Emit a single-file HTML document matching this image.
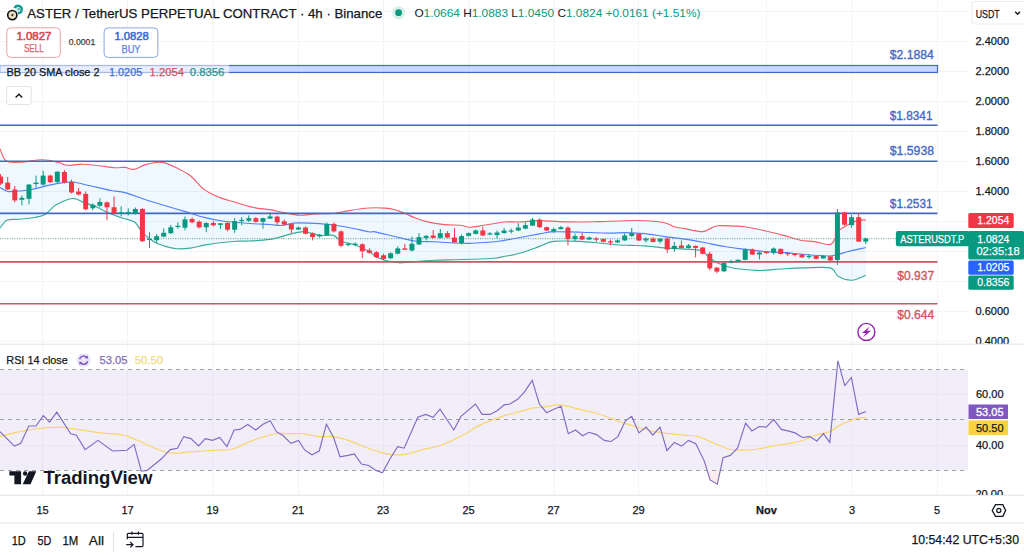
<!DOCTYPE html>
<html><head><meta charset="utf-8">
<style>
html,body{margin:0;padding:0;background:#fff;width:1024px;height:555px;overflow:hidden;}
svg{position:absolute;left:0;top:0;font-family:"Liberation Sans", sans-serif;}
</style></head><body>
<svg width="1024" height="555" viewBox="0 0 1024 555">
<line x1="42.5" y1="0" x2="42.5" y2="495" stroke="#f4f4f7" stroke-width="1"/>
<line x1="127.5" y1="0" x2="127.5" y2="495" stroke="#f4f4f7" stroke-width="1"/>
<line x1="213" y1="0" x2="213" y2="495" stroke="#f4f4f7" stroke-width="1"/>
<line x1="298.5" y1="0" x2="298.5" y2="495" stroke="#f4f4f7" stroke-width="1"/>
<line x1="383.5" y1="0" x2="383.5" y2="495" stroke="#f4f4f7" stroke-width="1"/>
<line x1="469" y1="0" x2="469" y2="495" stroke="#f4f4f7" stroke-width="1"/>
<line x1="554" y1="0" x2="554" y2="495" stroke="#f4f4f7" stroke-width="1"/>
<line x1="638.5" y1="0" x2="638.5" y2="495" stroke="#f4f4f7" stroke-width="1"/>
<line x1="766.5" y1="0" x2="766.5" y2="495" stroke="#f4f4f7" stroke-width="1"/>
<line x1="852" y1="0" x2="852" y2="495" stroke="#f4f4f7" stroke-width="1"/>
<line x1="937.5" y1="0" x2="937.5" y2="495" stroke="#f4f4f7" stroke-width="1"/>
<line x1="0" y1="11.5" x2="968" y2="11.5" stroke="#f4f4f7" stroke-width="1"/>
<line x1="0" y1="41.5" x2="968" y2="41.5" stroke="#f4f4f7" stroke-width="1"/>
<line x1="0" y1="71.5" x2="968" y2="71.5" stroke="#f4f4f7" stroke-width="1"/>
<line x1="0" y1="101.5" x2="968" y2="101.5" stroke="#f4f4f7" stroke-width="1"/>
<line x1="0" y1="131.5" x2="968" y2="131.5" stroke="#f4f4f7" stroke-width="1"/>
<line x1="0" y1="161.5" x2="968" y2="161.5" stroke="#f4f4f7" stroke-width="1"/>
<line x1="0" y1="191.5" x2="968" y2="191.5" stroke="#f4f4f7" stroke-width="1"/>
<line x1="0" y1="221.5" x2="968" y2="221.5" stroke="#f4f4f7" stroke-width="1"/>
<line x1="0" y1="251.5" x2="968" y2="251.5" stroke="#f4f4f7" stroke-width="1"/>
<line x1="0" y1="281.5" x2="968" y2="281.5" stroke="#f4f4f7" stroke-width="1"/>
<line x1="0" y1="311.5" x2="968" y2="311.5" stroke="#f4f4f7" stroke-width="1"/>
<line x1="0" y1="341.5" x2="968" y2="341.5" stroke="#f4f4f7" stroke-width="1"/>
<line x1="0" y1="394.5" x2="968" y2="394.5" stroke="#f4f4f7" stroke-width="1"/>
<line x1="0" y1="445.5" x2="968" y2="445.5" stroke="#f4f4f7" stroke-width="1"/>
<path d="M0.0,148.8 C1.0,150.8 2.7,158.5 6.0,160.7 C9.3,162.9 13.9,162.3 20.0,162.2 C26.1,162.0 36.0,159.7 42.6,159.8 C49.2,159.9 55.3,161.9 59.4,162.8 C63.5,163.7 63.4,165.1 67.3,165.3 C71.2,165.5 77.7,164.1 83.0,164.2 C88.3,164.3 93.7,165.1 99.0,165.7 C104.3,166.3 110.7,167.4 115.0,167.7 C119.3,168.0 121.8,167.1 125.0,167.4 C128.2,167.7 130.6,169.8 133.9,169.4 C137.2,169.0 140.8,166.1 144.8,164.9 C148.8,163.7 154.4,162.6 157.7,162.3 C161.0,162.0 161.5,162.0 164.6,162.9 C167.7,163.8 172.2,165.7 176.5,167.8 C180.8,170.0 185.8,172.2 190.4,175.8 C195.0,179.4 199.4,186.0 204.3,189.6 C209.2,193.2 214.7,195.4 220.0,197.6 C225.3,199.8 230.4,200.8 236.0,202.5 C241.6,204.2 248.2,206.3 253.8,207.5 C259.4,208.7 264.8,208.8 269.8,209.6 C274.8,210.4 278.8,211.7 283.7,212.6 C288.6,213.5 294.2,215.0 299.5,215.2 C304.8,215.4 309.4,214.3 315.4,214.0 C321.3,213.7 329.6,213.8 335.2,213.2 C340.8,212.6 343.4,211.5 349.0,210.6 C354.6,209.7 362.9,208.4 368.9,208.0 C374.9,207.6 380.6,207.8 384.9,208.1 C389.2,208.4 391.5,208.8 394.8,209.7 C398.1,210.6 401.4,212.0 404.7,213.3 C408.0,214.6 411.0,216.3 414.6,217.7 C418.2,219.1 421.5,220.4 426.5,221.6 C431.5,222.8 438.8,224.0 444.4,224.6 C450.0,225.2 455.9,224.8 460.2,225.2 C464.5,225.6 466.1,227.2 470.1,227.2 C474.1,227.2 478.2,226.1 484.0,225.2 C489.8,224.3 499.0,222.5 505.0,222.0 C511.0,221.5 514.0,222.2 519.8,222.0 C525.6,221.8 533.0,220.7 539.6,220.6 C546.2,220.5 552.9,221.4 559.5,221.6 C566.1,221.8 572.7,222.0 579.3,222.0 C585.9,222.0 591.5,221.8 599.1,221.6 C606.7,221.4 617.4,220.8 625.0,220.7 C632.6,220.5 638.2,220.4 644.8,220.7 C651.4,221.0 659.6,221.7 664.6,222.7 C669.6,223.7 671.2,225.7 674.5,226.7 C677.8,227.7 679.9,227.8 684.5,228.6 C689.1,229.4 698.0,231.6 702.3,231.6 C706.6,231.6 707.6,229.6 710.2,228.6 C712.8,227.6 714.1,226.1 718.1,225.7 C722.1,225.3 729.5,225.9 734.0,226.1 C738.5,226.3 739.9,225.9 745.0,226.7 C750.1,227.5 758.2,229.2 764.8,230.7 C771.4,232.2 778.6,234.0 784.6,235.6 C790.6,237.2 795.5,239.2 800.5,240.2 C805.5,241.2 809.4,240.9 814.4,241.6 C819.4,242.3 826.6,245.3 830.2,244.5 C833.8,243.7 834.6,239.1 836.2,236.6 C837.9,234.1 838.1,231.7 840.1,229.7 C842.1,227.7 845.0,226.2 848.0,224.7 C851.0,223.1 855.0,221.2 858.0,220.4 C861.0,219.6 864.6,219.9 865.9,219.8 L865.9,275.3 C863.6,276.1 856.6,280.0 852.0,280.2 C847.4,280.4 841.7,278.4 838.1,276.3 C834.5,274.2 835.8,269.3 830.2,267.9 C824.6,266.5 812.1,267.8 804.5,267.9 C796.9,268.0 791.2,268.3 784.6,268.7 C778.0,269.1 769.7,270.0 764.8,270.3 C759.9,270.6 760.1,270.6 755.0,270.3 C749.9,270.0 740.1,269.5 734.0,268.3 C727.9,267.1 722.4,265.3 718.1,263.3 C713.8,261.3 711.2,258.5 708.2,256.4 C705.2,254.2 704.2,251.6 700.3,250.4 C696.3,249.2 690.5,249.5 684.5,249.1 C678.5,248.7 671.2,248.4 664.6,247.9 C658.0,247.4 650.6,246.3 644.8,245.9 C639.0,245.5 634.3,245.6 630.0,245.4 C625.7,245.2 624.0,245.4 618.9,245.0 C613.8,244.6 605.7,243.6 599.1,243.0 C592.5,242.4 586.9,241.7 579.3,241.4 C571.7,241.1 560.1,240.6 553.5,241.4 C546.9,242.2 545.2,244.4 539.6,246.4 C534.0,248.4 525.6,251.7 519.8,253.3 C514.0,255.0 509.3,255.5 505.0,256.3 C500.7,257.1 499.0,257.8 493.9,258.3 C488.8,258.8 480.7,259.1 474.1,259.3 C467.5,259.5 460.9,259.5 454.3,259.7 C447.7,259.9 441.1,260.0 434.5,260.3 C427.9,260.6 420.6,261.2 414.6,261.6 C408.7,262.0 403.8,263.0 398.8,262.8 C393.9,262.6 388.9,261.4 384.9,260.3 C380.9,259.2 377.7,257.8 375.0,256.3 C372.3,254.8 372.6,253.3 368.9,251.3 C365.2,249.3 357.6,246.0 353.0,244.3 C348.4,242.6 344.3,242.8 341.0,241.3 C337.7,239.8 336.8,236.4 333.2,235.4 C329.6,234.4 324.0,236.0 319.4,235.4 C314.8,234.8 309.1,232.3 305.5,231.8 C301.9,231.3 300.9,231.8 297.6,232.4 C294.3,233.0 290.3,234.2 285.7,235.4 C281.1,236.6 275.8,238.5 269.8,239.4 C263.9,240.3 255.6,240.7 250.0,241.0 C244.4,241.3 241.0,240.9 236.0,241.2 C231.0,241.5 225.3,242.0 220.0,242.7 C214.7,243.3 209.2,244.2 204.3,245.1 C199.4,246.0 195.0,247.5 190.4,248.1 C185.8,248.7 180.8,249.0 176.5,248.7 C172.2,248.4 168.2,247.2 164.6,246.1 C161.0,245.0 158.3,244.3 154.7,242.2 C151.1,240.0 146.1,236.5 142.8,233.2 C139.5,229.9 138.2,224.8 134.9,222.3 C131.6,219.8 127.1,219.7 122.8,218.2 C118.5,216.7 113.6,215.3 109.0,213.3 C104.4,211.3 99.3,208.1 95.0,206.3 C90.7,204.5 86.3,203.6 83.2,202.4 C80.1,201.2 78.5,199.6 76.2,199.0 C73.9,198.4 72.8,197.9 69.3,199.0 C65.8,200.1 59.4,202.8 55.4,205.3 C51.4,207.9 48.8,212.3 45.5,214.3 C42.2,216.3 39.9,216.4 35.6,217.2 C31.3,218.0 24.6,218.7 19.8,219.2 C15.0,219.7 10.2,218.7 6.9,220.2 C3.6,221.7 1.2,226.7 0.0,228.0 Z" fill="rgba(33,150,243,0.07)"/>
<path d="M0.0,148.8 C1.0,150.8 2.7,158.5 6.0,160.7 C9.3,162.9 13.9,162.3 20.0,162.2 C26.1,162.0 36.0,159.7 42.6,159.8 C49.2,159.9 55.3,161.9 59.4,162.8 C63.5,163.7 63.4,165.1 67.3,165.3 C71.2,165.5 77.7,164.1 83.0,164.2 C88.3,164.3 93.7,165.1 99.0,165.7 C104.3,166.3 110.7,167.4 115.0,167.7 C119.3,168.0 121.8,167.1 125.0,167.4 C128.2,167.7 130.6,169.8 133.9,169.4 C137.2,169.0 140.8,166.1 144.8,164.9 C148.8,163.7 154.4,162.6 157.7,162.3 C161.0,162.0 161.5,162.0 164.6,162.9 C167.7,163.8 172.2,165.7 176.5,167.8 C180.8,170.0 185.8,172.2 190.4,175.8 C195.0,179.4 199.4,186.0 204.3,189.6 C209.2,193.2 214.7,195.4 220.0,197.6 C225.3,199.8 230.4,200.8 236.0,202.5 C241.6,204.2 248.2,206.3 253.8,207.5 C259.4,208.7 264.8,208.8 269.8,209.6 C274.8,210.4 278.8,211.7 283.7,212.6 C288.6,213.5 294.2,215.0 299.5,215.2 C304.8,215.4 309.4,214.3 315.4,214.0 C321.3,213.7 329.6,213.8 335.2,213.2 C340.8,212.6 343.4,211.5 349.0,210.6 C354.6,209.7 362.9,208.4 368.9,208.0 C374.9,207.6 380.6,207.8 384.9,208.1 C389.2,208.4 391.5,208.8 394.8,209.7 C398.1,210.6 401.4,212.0 404.7,213.3 C408.0,214.6 411.0,216.3 414.6,217.7 C418.2,219.1 421.5,220.4 426.5,221.6 C431.5,222.8 438.8,224.0 444.4,224.6 C450.0,225.2 455.9,224.8 460.2,225.2 C464.5,225.6 466.1,227.2 470.1,227.2 C474.1,227.2 478.2,226.1 484.0,225.2 C489.8,224.3 499.0,222.5 505.0,222.0 C511.0,221.5 514.0,222.2 519.8,222.0 C525.6,221.8 533.0,220.7 539.6,220.6 C546.2,220.5 552.9,221.4 559.5,221.6 C566.1,221.8 572.7,222.0 579.3,222.0 C585.9,222.0 591.5,221.8 599.1,221.6 C606.7,221.4 617.4,220.8 625.0,220.7 C632.6,220.5 638.2,220.4 644.8,220.7 C651.4,221.0 659.6,221.7 664.6,222.7 C669.6,223.7 671.2,225.7 674.5,226.7 C677.8,227.7 679.9,227.8 684.5,228.6 C689.1,229.4 698.0,231.6 702.3,231.6 C706.6,231.6 707.6,229.6 710.2,228.6 C712.8,227.6 714.1,226.1 718.1,225.7 C722.1,225.3 729.5,225.9 734.0,226.1 C738.5,226.3 739.9,225.9 745.0,226.7 C750.1,227.5 758.2,229.2 764.8,230.7 C771.4,232.2 778.6,234.0 784.6,235.6 C790.6,237.2 795.5,239.2 800.5,240.2 C805.5,241.2 809.4,240.9 814.4,241.6 C819.4,242.3 826.6,245.3 830.2,244.5 C833.8,243.7 834.6,239.1 836.2,236.6 C837.9,234.1 838.1,231.7 840.1,229.7 C842.1,227.7 845.0,226.2 848.0,224.7 C851.0,223.1 855.0,221.2 858.0,220.4 C861.0,219.6 864.6,219.9 865.9,219.8" fill="none" stroke="#f23645" stroke-width="1.15" stroke-opacity="0.8"/>
<path d="M0.0,187.5 C1.3,188.2 4.6,190.9 7.9,191.5 C11.2,192.1 15.8,191.3 19.8,191.0 C23.8,190.7 26.8,190.5 31.7,189.5 C36.6,188.5 44.2,186.2 49.5,185.1 C54.8,183.9 59.4,183.1 63.4,182.6 C67.4,182.1 69.0,181.5 73.3,182.0 C77.6,182.5 82.7,184.1 89.0,185.5 C95.3,186.9 105.0,189.3 111.0,190.5 C117.0,191.7 119.4,191.1 125.0,192.6 C130.6,194.1 138.2,197.3 144.8,199.5 C151.4,201.7 158.0,203.5 164.6,205.5 C171.2,207.5 177.9,209.4 184.5,211.4 C191.1,213.4 197.7,215.8 204.3,217.4 C210.9,219.1 216.4,220.3 224.0,221.3 C231.6,222.3 242.4,223.0 250.0,223.5 C257.6,224.0 264.5,224.2 269.8,224.5 C275.1,224.8 277.7,225.7 281.7,225.5 C285.7,225.3 289.0,223.5 293.6,223.1 C298.2,222.7 303.6,222.9 309.5,223.1 C315.4,223.3 322.7,223.8 329.3,224.5 C335.9,225.2 342.4,226.3 349.0,227.5 C355.6,228.7 364.6,231.1 368.9,231.8 C373.2,232.5 370.7,231.1 375.0,231.9 C379.3,232.7 388.2,235.0 394.8,236.5 C401.4,238.0 408.0,240.1 414.6,241.0 C421.2,241.9 427.9,241.5 434.5,241.8 C441.1,242.1 448.4,242.7 454.3,243.0 C460.2,243.3 464.8,243.5 470.1,243.4 C475.4,243.3 481.0,242.8 486.0,242.4 C491.0,242.0 494.4,241.8 500.0,241.0 C505.6,240.2 513.2,238.7 519.8,237.5 C526.4,236.3 534.3,234.8 539.6,233.9 C544.9,233.0 546.5,232.2 551.5,231.9 C556.5,231.6 563.1,231.8 569.4,231.9 C575.7,232.0 582.3,232.3 589.2,232.5 C596.1,232.7 605.0,233.1 611.0,233.1 C617.0,233.1 619.4,232.5 625.0,232.6 C630.6,232.7 638.2,232.9 644.8,233.6 C651.4,234.3 658.0,235.7 664.6,236.6 C671.2,237.5 677.9,238.1 684.5,239.1 C691.1,240.1 697.7,241.3 704.3,242.5 C710.9,243.7 717.5,245.4 724.1,246.5 C730.7,247.6 737.1,248.3 743.9,249.1 C750.7,249.9 758.0,250.9 764.8,251.5 C771.6,252.1 778.0,252.0 784.6,252.5 C791.2,253.0 797.2,253.9 804.5,254.5 C811.8,255.1 822.6,256.0 828.2,256.0 C833.8,256.0 834.8,255.2 838.1,254.5 C841.4,253.8 843.4,252.7 848.0,251.5 C852.6,250.3 862.9,248.2 865.9,247.5" fill="none" stroke="#2962ff" stroke-width="1.15" stroke-opacity="0.8"/>
<path d="M0.0,228.0 C1.2,226.7 3.6,221.7 6.9,220.2 C10.2,218.7 15.0,219.7 19.8,219.2 C24.6,218.7 31.3,218.0 35.6,217.2 C39.9,216.4 42.2,216.3 45.5,214.3 C48.8,212.3 51.4,207.9 55.4,205.3 C59.4,202.8 65.8,200.1 69.3,199.0 C72.8,197.9 73.9,198.4 76.2,199.0 C78.5,199.6 80.1,201.2 83.2,202.4 C86.3,203.6 90.7,204.5 95.0,206.3 C99.3,208.1 104.4,211.3 109.0,213.3 C113.6,215.3 118.5,216.7 122.8,218.2 C127.1,219.7 131.6,219.8 134.9,222.3 C138.2,224.8 139.5,229.9 142.8,233.2 C146.1,236.5 151.1,240.0 154.7,242.2 C158.3,244.3 161.0,245.0 164.6,246.1 C168.2,247.2 172.2,248.4 176.5,248.7 C180.8,249.0 185.8,248.7 190.4,248.1 C195.0,247.5 199.4,246.0 204.3,245.1 C209.2,244.2 214.7,243.3 220.0,242.7 C225.3,242.0 231.0,241.5 236.0,241.2 C241.0,240.9 244.4,241.3 250.0,241.0 C255.6,240.7 263.9,240.3 269.8,239.4 C275.8,238.5 281.1,236.6 285.7,235.4 C290.3,234.2 294.3,233.0 297.6,232.4 C300.9,231.8 301.9,231.3 305.5,231.8 C309.1,232.3 314.8,234.8 319.4,235.4 C324.0,236.0 329.6,234.4 333.2,235.4 C336.8,236.4 337.7,239.8 341.0,241.3 C344.3,242.8 348.4,242.6 353.0,244.3 C357.6,246.0 365.2,249.3 368.9,251.3 C372.6,253.3 372.3,254.8 375.0,256.3 C377.7,257.8 380.9,259.2 384.9,260.3 C388.9,261.4 393.9,262.6 398.8,262.8 C403.8,263.0 408.7,262.0 414.6,261.6 C420.6,261.2 427.9,260.6 434.5,260.3 C441.1,260.0 447.7,259.9 454.3,259.7 C460.9,259.5 467.5,259.5 474.1,259.3 C480.7,259.1 488.8,258.8 493.9,258.3 C499.0,257.8 500.7,257.1 505.0,256.3 C509.3,255.5 514.0,255.0 519.8,253.3 C525.6,251.7 534.0,248.4 539.6,246.4 C545.2,244.4 546.9,242.2 553.5,241.4 C560.1,240.6 571.7,241.1 579.3,241.4 C586.9,241.7 592.5,242.4 599.1,243.0 C605.7,243.6 613.8,244.6 618.9,245.0 C624.0,245.4 625.7,245.2 630.0,245.4 C634.3,245.6 639.0,245.5 644.8,245.9 C650.6,246.3 658.0,247.4 664.6,247.9 C671.2,248.4 678.5,248.7 684.5,249.1 C690.5,249.5 696.3,249.2 700.3,250.4 C704.2,251.6 705.2,254.2 708.2,256.4 C711.2,258.5 713.8,261.3 718.1,263.3 C722.4,265.3 727.9,267.1 734.0,268.3 C740.1,269.5 749.9,270.0 755.0,270.3 C760.1,270.6 759.9,270.6 764.8,270.3 C769.7,270.0 778.0,269.1 784.6,268.7 C791.2,268.3 796.9,268.0 804.5,267.9 C812.1,267.8 824.6,266.5 830.2,267.9 C835.8,269.3 834.5,274.2 838.1,276.3 C841.7,278.4 847.4,280.4 852.0,280.2 C856.6,280.0 863.6,276.1 865.9,275.3" fill="none" stroke="#089981" stroke-width="1.15" stroke-opacity="0.8"/>
<rect x="0" y="65.5" width="937.5" height="7" fill="rgba(41,98,255,0.24)" stroke="#4267c4" stroke-width="1.2"/>
<line x1="0" y1="125.3" x2="937.5" y2="125.3" stroke="#4267c4" stroke-width="1.6"/>
<line x1="0" y1="161.3" x2="937.5" y2="161.3" stroke="#4267c4" stroke-width="1.6"/>
<line x1="0" y1="213.4" x2="937.5" y2="213.4" stroke="#4267c4" stroke-width="1.6"/>
<line x1="0" y1="261.9" x2="937.5" y2="261.9" stroke="#cc5560" stroke-width="1.6"/>
<line x1="0" y1="303.8" x2="937.5" y2="303.8" stroke="#cc5560" stroke-width="1.6"/>
<line x1="0" y1="238.7" x2="968" y2="238.7" stroke="#5f9488" stroke-width="1" stroke-dasharray="1,1.4"/>
<line x1="0.60" y1="174.0" x2="0.60" y2="185.0" stroke="#f23645" stroke-width="1"/>
<rect x="-1.90" y="176.6" width="5" height="7.00" fill="#f23645"/>
<line x1="7.69" y1="177.0" x2="7.69" y2="190.0" stroke="#f23645" stroke-width="1"/>
<rect x="5.19" y="182.6" width="5" height="6.90" fill="#f23645"/>
<line x1="14.78" y1="186.0" x2="14.78" y2="202.4" stroke="#f23645" stroke-width="1"/>
<rect x="12.28" y="189.5" width="5" height="10.90" fill="#f23645"/>
<line x1="21.88" y1="195.4" x2="21.88" y2="205.3" stroke="#089981" stroke-width="1"/>
<rect x="19.38" y="197.8" width="5" height="2.00" fill="#089981"/>
<line x1="28.97" y1="184.0" x2="28.97" y2="204.4" stroke="#089981" stroke-width="1"/>
<rect x="26.47" y="184.6" width="5" height="14.20" fill="#089981"/>
<line x1="36.06" y1="175.6" x2="36.06" y2="187.5" stroke="#089981" stroke-width="1"/>
<rect x="33.56" y="182.6" width="5" height="1.40" fill="#089981"/>
<line x1="43.15" y1="170.7" x2="43.15" y2="185.5" stroke="#089981" stroke-width="1"/>
<rect x="40.65" y="175.6" width="5" height="9.00" fill="#089981"/>
<line x1="50.24" y1="174.7" x2="50.24" y2="183.0" stroke="#f23645" stroke-width="1"/>
<rect x="47.74" y="175.6" width="5" height="6.60" fill="#f23645"/>
<line x1="57.33" y1="171.3" x2="57.33" y2="183.6" stroke="#089981" stroke-width="1"/>
<rect x="54.83" y="171.7" width="5" height="10.30" fill="#089981"/>
<line x1="64.43" y1="170.0" x2="64.43" y2="183.5" stroke="#f23645" stroke-width="1"/>
<rect x="61.93" y="172.0" width="5" height="10.60" fill="#f23645"/>
<line x1="71.52" y1="179.6" x2="71.52" y2="193.5" stroke="#f23645" stroke-width="1"/>
<rect x="69.02" y="182.0" width="5" height="10.50" fill="#f23645"/>
<line x1="78.61" y1="188.0" x2="78.61" y2="195.4" stroke="#f23645" stroke-width="1"/>
<rect x="76.11" y="191.5" width="5" height="3.00" fill="#f23645"/>
<line x1="85.70" y1="191.5" x2="85.70" y2="210.3" stroke="#f23645" stroke-width="1"/>
<rect x="83.20" y="193.9" width="5" height="15.40" fill="#f23645"/>
<line x1="92.79" y1="203.4" x2="92.79" y2="210.3" stroke="#089981" stroke-width="1"/>
<rect x="90.29" y="204.8" width="5" height="3.50" fill="#089981"/>
<line x1="99.88" y1="198.4" x2="99.88" y2="207.3" stroke="#089981" stroke-width="1"/>
<rect x="97.38" y="202.0" width="5" height="3.70" fill="#089981"/>
<line x1="106.98" y1="201.4" x2="106.98" y2="220.2" stroke="#f23645" stroke-width="1"/>
<rect x="104.48" y="202.4" width="5" height="4.90" fill="#f23645"/>
<line x1="114.07" y1="196.4" x2="114.07" y2="214.3" stroke="#f23645" stroke-width="1"/>
<rect x="111.57" y="207.3" width="5" height="6.00" fill="#f23645"/>
<line x1="121.16" y1="206.3" x2="121.16" y2="216.2" stroke="#089981" stroke-width="1"/>
<rect x="118.66" y="212.3" width="5" height="1.20" fill="#089981"/>
<line x1="128.25" y1="208.3" x2="128.25" y2="215.4" stroke="#089981" stroke-width="1"/>
<rect x="125.75" y="212.0" width="5" height="1.20" fill="#089981"/>
<line x1="135.34" y1="207.5" x2="135.34" y2="214.5" stroke="#089981" stroke-width="1"/>
<rect x="132.84" y="209.0" width="5" height="4.80" fill="#089981"/>
<line x1="142.43" y1="207.9" x2="142.43" y2="242.0" stroke="#f23645" stroke-width="1"/>
<rect x="139.93" y="209.0" width="5" height="32.20" fill="#f23645"/>
<line x1="149.53" y1="232.2" x2="149.53" y2="248.0" stroke="#089981" stroke-width="1"/>
<rect x="147.03" y="238.8" width="5" height="1.20" fill="#089981"/>
<line x1="156.62" y1="234.2" x2="156.62" y2="243.0" stroke="#089981" stroke-width="1"/>
<rect x="154.12" y="236.2" width="5" height="4.00" fill="#089981"/>
<line x1="163.71" y1="228.3" x2="163.71" y2="237.2" stroke="#089981" stroke-width="1"/>
<rect x="161.21" y="232.8" width="5" height="3.80" fill="#089981"/>
<line x1="170.80" y1="224.9" x2="170.80" y2="234.0" stroke="#089981" stroke-width="1"/>
<rect x="168.30" y="227.3" width="5" height="5.90" fill="#089981"/>
<line x1="177.89" y1="222.3" x2="177.89" y2="228.8" stroke="#089981" stroke-width="1"/>
<rect x="175.39" y="225.8" width="5" height="1.20" fill="#089981"/>
<line x1="184.98" y1="216.4" x2="184.98" y2="230.3" stroke="#089981" stroke-width="1"/>
<rect x="182.48" y="219.4" width="5" height="8.30" fill="#089981"/>
<line x1="192.08" y1="217.4" x2="192.08" y2="223.3" stroke="#f23645" stroke-width="1"/>
<rect x="189.58" y="219.0" width="5" height="3.30" fill="#f23645"/>
<line x1="199.17" y1="220.4" x2="199.17" y2="228.3" stroke="#f23645" stroke-width="1"/>
<rect x="196.67" y="221.7" width="5" height="5.60" fill="#f23645"/>
<line x1="206.26" y1="222.3" x2="206.26" y2="232.2" stroke="#089981" stroke-width="1"/>
<rect x="203.76" y="223.0" width="5" height="4.30" fill="#089981"/>
<line x1="213.35" y1="221.0" x2="213.35" y2="226.3" stroke="#f23645" stroke-width="1"/>
<rect x="210.85" y="223.0" width="5" height="2.30" fill="#f23645"/>
<line x1="220.44" y1="223.3" x2="220.44" y2="228.9" stroke="#089981" stroke-width="1"/>
<rect x="217.94" y="223.3" width="5" height="1.60" fill="#089981"/>
<line x1="227.53" y1="222.3" x2="227.53" y2="231.3" stroke="#f23645" stroke-width="1"/>
<rect x="225.03" y="222.9" width="5" height="6.80" fill="#f23645"/>
<line x1="234.63" y1="218.2" x2="234.63" y2="232.8" stroke="#089981" stroke-width="1"/>
<rect x="232.13" y="221.1" width="5" height="8.60" fill="#089981"/>
<line x1="241.72" y1="217.0" x2="241.72" y2="225.2" stroke="#089981" stroke-width="1"/>
<rect x="239.22" y="219.9" width="5" height="1.20" fill="#089981"/>
<line x1="248.81" y1="215.3" x2="248.81" y2="222.0" stroke="#089981" stroke-width="1"/>
<rect x="246.31" y="218.2" width="5" height="2.50" fill="#089981"/>
<line x1="255.90" y1="217.0" x2="255.90" y2="222.5" stroke="#f23645" stroke-width="1"/>
<rect x="253.40" y="218.2" width="5" height="3.60" fill="#f23645"/>
<line x1="262.99" y1="217.6" x2="262.99" y2="228.6" stroke="#089981" stroke-width="1"/>
<rect x="260.49" y="218.2" width="5" height="3.60" fill="#089981"/>
<line x1="270.08" y1="212.6" x2="270.08" y2="219.0" stroke="#089981" stroke-width="1"/>
<rect x="267.58" y="216.4" width="5" height="2.20" fill="#089981"/>
<line x1="277.18" y1="215.6" x2="277.18" y2="224.6" stroke="#f23645" stroke-width="1"/>
<rect x="274.68" y="216.6" width="5" height="5.70" fill="#f23645"/>
<line x1="284.27" y1="219.5" x2="284.27" y2="225.0" stroke="#f23645" stroke-width="1"/>
<rect x="281.77" y="221.3" width="5" height="3.30" fill="#f23645"/>
<line x1="291.36" y1="223.1" x2="291.36" y2="233.0" stroke="#f23645" stroke-width="1"/>
<rect x="288.86" y="224.1" width="5" height="5.40" fill="#f23645"/>
<line x1="298.45" y1="226.5" x2="298.45" y2="230.0" stroke="#089981" stroke-width="1"/>
<rect x="295.95" y="227.5" width="5" height="2.00" fill="#089981"/>
<line x1="305.54" y1="226.5" x2="305.54" y2="234.4" stroke="#f23645" stroke-width="1"/>
<rect x="303.04" y="227.5" width="5" height="6.30" fill="#f23645"/>
<line x1="312.63" y1="232.4" x2="312.63" y2="240.4" stroke="#f23645" stroke-width="1"/>
<rect x="310.13" y="233.4" width="5" height="3.60" fill="#f23645"/>
<line x1="319.73" y1="234.0" x2="319.73" y2="237.4" stroke="#089981" stroke-width="1"/>
<rect x="317.23" y="234.8" width="5" height="1.60" fill="#089981"/>
<line x1="326.82" y1="222.5" x2="326.82" y2="235.8" stroke="#089981" stroke-width="1"/>
<rect x="324.32" y="223.9" width="5" height="11.50" fill="#089981"/>
<line x1="333.91" y1="222.5" x2="333.91" y2="232.4" stroke="#f23645" stroke-width="1"/>
<rect x="331.41" y="223.9" width="5" height="7.50" fill="#f23645"/>
<line x1="341.00" y1="230.4" x2="341.00" y2="247.3" stroke="#f23645" stroke-width="1"/>
<rect x="338.50" y="231.4" width="5" height="14.30" fill="#f23645"/>
<line x1="348.09" y1="243.0" x2="348.09" y2="246.3" stroke="#089981" stroke-width="1"/>
<rect x="345.59" y="243.8" width="5" height="1.20" fill="#089981"/>
<line x1="355.19" y1="242.3" x2="355.19" y2="246.3" stroke="#089981" stroke-width="1"/>
<rect x="352.69" y="243.7" width="5" height="1.20" fill="#089981"/>
<line x1="362.28" y1="243.3" x2="362.28" y2="258.2" stroke="#f23645" stroke-width="1"/>
<rect x="359.78" y="244.3" width="5" height="7.00" fill="#f23645"/>
<line x1="369.37" y1="248.3" x2="369.37" y2="253.6" stroke="#f23645" stroke-width="1"/>
<rect x="366.87" y="250.3" width="5" height="2.50" fill="#f23645"/>
<line x1="376.46" y1="251.3" x2="376.46" y2="258.2" stroke="#f23645" stroke-width="1"/>
<rect x="373.96" y="252.2" width="5" height="5.00" fill="#f23645"/>
<line x1="383.55" y1="253.7" x2="383.55" y2="260.3" stroke="#f23645" stroke-width="1"/>
<rect x="381.05" y="255.3" width="5" height="3.60" fill="#f23645"/>
<line x1="390.64" y1="252.3" x2="390.64" y2="258.9" stroke="#089981" stroke-width="1"/>
<rect x="388.14" y="253.3" width="5" height="5.00" fill="#089981"/>
<line x1="397.74" y1="246.4" x2="397.74" y2="254.3" stroke="#089981" stroke-width="1"/>
<rect x="395.24" y="248.4" width="5" height="5.30" fill="#089981"/>
<line x1="404.83" y1="243.8" x2="404.83" y2="250.0" stroke="#f23645" stroke-width="1"/>
<rect x="402.33" y="248.4" width="5" height="1.40" fill="#f23645"/>
<line x1="411.92" y1="236.5" x2="411.92" y2="251.7" stroke="#089981" stroke-width="1"/>
<rect x="409.42" y="243.8" width="5" height="6.60" fill="#089981"/>
<line x1="419.01" y1="233.1" x2="419.01" y2="245.0" stroke="#089981" stroke-width="1"/>
<rect x="416.51" y="237.1" width="5" height="7.30" fill="#089981"/>
<line x1="426.10" y1="235.1" x2="426.10" y2="240.4" stroke="#089981" stroke-width="1"/>
<rect x="423.60" y="235.9" width="5" height="2.00" fill="#089981"/>
<line x1="433.19" y1="230.0" x2="433.19" y2="238.1" stroke="#f23645" stroke-width="1"/>
<rect x="430.69" y="235.5" width="5" height="2.40" fill="#f23645"/>
<line x1="440.29" y1="229.1" x2="440.29" y2="238.5" stroke="#089981" stroke-width="1"/>
<rect x="437.79" y="233.1" width="5" height="4.80" fill="#089981"/>
<line x1="447.38" y1="231.1" x2="447.38" y2="238.1" stroke="#f23645" stroke-width="1"/>
<rect x="444.88" y="233.1" width="5" height="4.40" fill="#f23645"/>
<line x1="454.47" y1="228.2" x2="454.47" y2="243.0" stroke="#f23645" stroke-width="1"/>
<rect x="451.97" y="237.5" width="5" height="4.90" fill="#f23645"/>
<line x1="461.56" y1="234.5" x2="461.56" y2="244.4" stroke="#089981" stroke-width="1"/>
<rect x="459.06" y="236.1" width="5" height="6.90" fill="#089981"/>
<line x1="468.65" y1="232.5" x2="468.65" y2="236.5" stroke="#089981" stroke-width="1"/>
<rect x="466.15" y="233.1" width="5" height="2.80" fill="#089981"/>
<line x1="475.74" y1="229.5" x2="475.74" y2="234.5" stroke="#089981" stroke-width="1"/>
<rect x="473.24" y="230.5" width="5" height="3.40" fill="#089981"/>
<line x1="482.84" y1="226.6" x2="482.84" y2="235.9" stroke="#f23645" stroke-width="1"/>
<rect x="480.34" y="230.5" width="5" height="5.00" fill="#f23645"/>
<line x1="489.93" y1="232.0" x2="489.93" y2="235.1" stroke="#089981" stroke-width="1"/>
<rect x="487.43" y="233.4" width="5" height="1.20" fill="#089981"/>
<line x1="497.02" y1="230.5" x2="497.02" y2="238.5" stroke="#089981" stroke-width="1"/>
<rect x="494.52" y="232.5" width="5" height="2.60" fill="#089981"/>
<line x1="504.11" y1="228.0" x2="504.11" y2="233.5" stroke="#089981" stroke-width="1"/>
<rect x="501.61" y="230.5" width="5" height="2.60" fill="#089981"/>
<line x1="511.20" y1="228.6" x2="511.20" y2="233.5" stroke="#089981" stroke-width="1"/>
<rect x="508.70" y="230.5" width="5" height="1.20" fill="#089981"/>
<line x1="518.29" y1="223.2" x2="518.29" y2="231.1" stroke="#089981" stroke-width="1"/>
<rect x="515.79" y="227.6" width="5" height="2.90" fill="#089981"/>
<line x1="525.39" y1="222.6" x2="525.39" y2="229.1" stroke="#089981" stroke-width="1"/>
<rect x="522.89" y="225.2" width="5" height="3.40" fill="#089981"/>
<line x1="532.48" y1="218.0" x2="532.48" y2="226.0" stroke="#089981" stroke-width="1"/>
<rect x="529.98" y="219.6" width="5" height="6.00" fill="#089981"/>
<line x1="539.57" y1="218.6" x2="539.57" y2="228.0" stroke="#f23645" stroke-width="1"/>
<rect x="537.07" y="219.6" width="5" height="7.60" fill="#f23645"/>
<line x1="546.66" y1="226.6" x2="546.66" y2="231.1" stroke="#f23645" stroke-width="1"/>
<rect x="544.16" y="227.2" width="5" height="3.30" fill="#f23645"/>
<line x1="553.75" y1="227.6" x2="553.75" y2="232.5" stroke="#089981" stroke-width="1"/>
<rect x="551.25" y="229.1" width="5" height="2.40" fill="#089981"/>
<line x1="560.84" y1="226.0" x2="560.84" y2="229.5" stroke="#089981" stroke-width="1"/>
<rect x="558.34" y="227.2" width="5" height="1.90" fill="#089981"/>
<line x1="567.94" y1="226.2" x2="567.94" y2="245.4" stroke="#f23645" stroke-width="1"/>
<rect x="565.44" y="227.6" width="5" height="11.50" fill="#f23645"/>
<line x1="575.03" y1="233.5" x2="575.03" y2="241.0" stroke="#089981" stroke-width="1"/>
<rect x="572.53" y="236.1" width="5" height="3.00" fill="#089981"/>
<line x1="582.12" y1="232.5" x2="582.12" y2="239.9" stroke="#f23645" stroke-width="1"/>
<rect x="579.62" y="236.1" width="5" height="3.40" fill="#f23645"/>
<line x1="589.21" y1="236.5" x2="589.21" y2="240.0" stroke="#089981" stroke-width="1"/>
<rect x="586.71" y="237.5" width="5" height="2.00" fill="#089981"/>
<line x1="596.30" y1="237.0" x2="596.30" y2="241.8" stroke="#f23645" stroke-width="1"/>
<rect x="593.80" y="238.5" width="5" height="1.20" fill="#f23645"/>
<line x1="603.39" y1="238.5" x2="603.39" y2="242.4" stroke="#f23645" stroke-width="1"/>
<rect x="600.89" y="239.0" width="5" height="2.80" fill="#f23645"/>
<line x1="610.49" y1="239.5" x2="610.49" y2="245.4" stroke="#f23645" stroke-width="1"/>
<rect x="607.99" y="241.3" width="5" height="1.20" fill="#f23645"/>
<line x1="617.58" y1="239.5" x2="617.58" y2="243.0" stroke="#089981" stroke-width="1"/>
<rect x="615.08" y="240.4" width="5" height="2.00" fill="#089981"/>
<line x1="624.67" y1="233.5" x2="624.67" y2="241.0" stroke="#089981" stroke-width="1"/>
<rect x="622.17" y="235.5" width="5" height="4.90" fill="#089981"/>
<line x1="631.76" y1="228.0" x2="631.76" y2="236.8" stroke="#089981" stroke-width="1"/>
<rect x="629.26" y="233.2" width="5" height="2.80" fill="#089981"/>
<line x1="638.85" y1="233.2" x2="638.85" y2="241.1" stroke="#f23645" stroke-width="1"/>
<rect x="636.35" y="234.0" width="5" height="6.50" fill="#f23645"/>
<line x1="645.94" y1="237.2" x2="645.94" y2="242.5" stroke="#089981" stroke-width="1"/>
<rect x="643.44" y="238.6" width="5" height="1.90" fill="#089981"/>
<line x1="653.04" y1="237.2" x2="653.04" y2="242.5" stroke="#f23645" stroke-width="1"/>
<rect x="650.54" y="238.6" width="5" height="3.30" fill="#f23645"/>
<line x1="660.13" y1="238.6" x2="660.13" y2="243.5" stroke="#089981" stroke-width="1"/>
<rect x="657.63" y="238.6" width="5" height="2.90" fill="#089981"/>
<line x1="667.22" y1="237.6" x2="667.22" y2="253.0" stroke="#f23645" stroke-width="1"/>
<rect x="664.72" y="238.6" width="5" height="10.90" fill="#f23645"/>
<line x1="674.31" y1="241.9" x2="674.31" y2="251.8" stroke="#089981" stroke-width="1"/>
<rect x="671.81" y="245.9" width="5" height="3.10" fill="#089981"/>
<line x1="681.40" y1="240.5" x2="681.40" y2="248.5" stroke="#f23645" stroke-width="1"/>
<rect x="678.90" y="245.5" width="5" height="2.40" fill="#f23645"/>
<line x1="688.49" y1="243.9" x2="688.49" y2="248.5" stroke="#089981" stroke-width="1"/>
<rect x="685.99" y="245.5" width="5" height="2.40" fill="#089981"/>
<line x1="695.59" y1="245.5" x2="695.59" y2="257.4" stroke="#f23645" stroke-width="1"/>
<rect x="693.09" y="245.9" width="5" height="2.00" fill="#f23645"/>
<line x1="702.68" y1="247.1" x2="702.68" y2="254.4" stroke="#f23645" stroke-width="1"/>
<rect x="700.18" y="247.5" width="5" height="6.30" fill="#f23645"/>
<line x1="709.77" y1="251.8" x2="709.77" y2="270.3" stroke="#f23645" stroke-width="1"/>
<rect x="707.27" y="253.8" width="5" height="14.50" fill="#f23645"/>
<line x1="716.86" y1="266.9" x2="716.86" y2="273.2" stroke="#f23645" stroke-width="1"/>
<rect x="714.36" y="267.7" width="5" height="3.90" fill="#f23645"/>
<line x1="723.95" y1="262.3" x2="723.95" y2="271.9" stroke="#089981" stroke-width="1"/>
<rect x="721.45" y="262.9" width="5" height="8.40" fill="#089981"/>
<line x1="731.05" y1="259.8" x2="731.05" y2="263.3" stroke="#089981" stroke-width="1"/>
<rect x="728.55" y="261.3" width="5" height="1.20" fill="#089981"/>
<line x1="738.14" y1="259.4" x2="738.14" y2="262.3" stroke="#089981" stroke-width="1"/>
<rect x="735.64" y="259.8" width="5" height="1.90" fill="#089981"/>
<line x1="745.23" y1="248.5" x2="745.23" y2="260.4" stroke="#089981" stroke-width="1"/>
<rect x="742.73" y="249.5" width="5" height="10.30" fill="#089981"/>
<line x1="752.32" y1="248.5" x2="752.32" y2="255.0" stroke="#f23645" stroke-width="1"/>
<rect x="749.82" y="249.5" width="5" height="5.00" fill="#f23645"/>
<line x1="759.41" y1="251.5" x2="759.41" y2="259.4" stroke="#089981" stroke-width="1"/>
<rect x="756.91" y="252.5" width="5" height="2.00" fill="#089981"/>
<line x1="766.50" y1="251.5" x2="766.50" y2="253.5" stroke="#f23645" stroke-width="1"/>
<rect x="764.00" y="252.0" width="5" height="1.20" fill="#f23645"/>
<line x1="773.60" y1="247.5" x2="773.60" y2="254.5" stroke="#089981" stroke-width="1"/>
<rect x="771.10" y="248.5" width="5" height="4.40" fill="#089981"/>
<line x1="780.69" y1="248.5" x2="780.69" y2="254.5" stroke="#f23645" stroke-width="1"/>
<rect x="778.19" y="248.9" width="5" height="5.10" fill="#f23645"/>
<line x1="787.78" y1="252.5" x2="787.78" y2="256.0" stroke="#f23645" stroke-width="1"/>
<rect x="785.28" y="253.0" width="5" height="1.20" fill="#f23645"/>
<line x1="794.87" y1="253.5" x2="794.87" y2="256.4" stroke="#f23645" stroke-width="1"/>
<rect x="792.37" y="253.8" width="5" height="1.20" fill="#f23645"/>
<line x1="801.96" y1="254.0" x2="801.96" y2="258.0" stroke="#f23645" stroke-width="1"/>
<rect x="799.46" y="254.5" width="5" height="2.90" fill="#f23645"/>
<line x1="809.05" y1="254.0" x2="809.05" y2="258.8" stroke="#089981" stroke-width="1"/>
<rect x="806.55" y="255.9" width="5" height="1.20" fill="#089981"/>
<line x1="816.15" y1="256.0" x2="816.15" y2="259.4" stroke="#f23645" stroke-width="1"/>
<rect x="813.65" y="256.0" width="5" height="2.80" fill="#f23645"/>
<line x1="823.24" y1="255.4" x2="823.24" y2="258.8" stroke="#089981" stroke-width="1"/>
<rect x="820.74" y="256.0" width="5" height="2.40" fill="#089981"/>
<line x1="830.33" y1="256.0" x2="830.33" y2="261.4" stroke="#f23645" stroke-width="1"/>
<rect x="827.83" y="256.4" width="5" height="4.00" fill="#f23645"/>
<line x1="837.42" y1="208.9" x2="837.42" y2="264.8" stroke="#089981" stroke-width="1"/>
<rect x="834.92" y="212.4" width="5" height="47.60" fill="#089981"/>
<line x1="844.51" y1="211.8" x2="844.51" y2="225.7" stroke="#f23645" stroke-width="1"/>
<rect x="842.01" y="212.4" width="5" height="12.30" fill="#f23645"/>
<line x1="851.60" y1="214.8" x2="851.60" y2="227.7" stroke="#089981" stroke-width="1"/>
<rect x="849.10" y="217.2" width="5" height="7.90" fill="#089981"/>
<line x1="858.70" y1="212.8" x2="858.70" y2="242.0" stroke="#f23645" stroke-width="1"/>
<rect x="856.20" y="217.2" width="5" height="24.40" fill="#f23645"/>
<line x1="865.79" y1="237.6" x2="865.79" y2="244.1" stroke="#089981" stroke-width="1"/>
<rect x="863.29" y="238.6" width="5" height="3.00" fill="#089981"/>
<text x="889.7" y="58.8" font-size="13" fill="#4267c4" text-anchor="start" font-weight="normal"  textLength="44.1" lengthAdjust="spacingAndGlyphs" stroke="#4267c4" stroke-width="0.35">$2.1884</text>
<text x="889.7" y="120" font-size="13" fill="#4267c4" text-anchor="start" font-weight="normal"  textLength="42.8" lengthAdjust="spacingAndGlyphs" stroke="#4267c4" stroke-width="0.35">$1.8341</text>
<text x="889.8" y="154.7" font-size="13" fill="#4267c4" text-anchor="start" font-weight="normal"  textLength="44.2" lengthAdjust="spacingAndGlyphs" stroke="#4267c4" stroke-width="0.35">$1.5938</text>
<text x="889.8" y="208" font-size="13" fill="#4267c4" text-anchor="start" font-weight="normal"  textLength="42.8" lengthAdjust="spacingAndGlyphs" stroke="#4267c4" stroke-width="0.35">$1.2531</text>
<text x="897.3" y="279.6" font-size="13" fill="#cc5560" text-anchor="start" font-weight="normal"  textLength="36.9" lengthAdjust="spacingAndGlyphs" stroke="#cc5560" stroke-width="0.35">$0.937</text>
<text x="897.3" y="319.1" font-size="13" fill="#cc5560" text-anchor="start" font-weight="normal"  textLength="36.9" lengthAdjust="spacingAndGlyphs" stroke="#cc5560" stroke-width="0.35">$0.644</text>
<text x="975.5" y="44.8" font-size="11" fill="#131722" text-anchor="start" font-weight="normal" stroke="#131722" stroke-width="0.25" >2.4000</text>
<text x="975.5" y="74.8" font-size="11" fill="#131722" text-anchor="start" font-weight="normal" stroke="#131722" stroke-width="0.25" >2.2000</text>
<text x="975.5" y="104.9" font-size="11" fill="#131722" text-anchor="start" font-weight="normal" stroke="#131722" stroke-width="0.25" >2.0000</text>
<text x="975.5" y="134.9" font-size="11" fill="#131722" text-anchor="start" font-weight="normal" stroke="#131722" stroke-width="0.25" >1.8000</text>
<text x="975.5" y="165" font-size="11" fill="#131722" text-anchor="start" font-weight="normal" stroke="#131722" stroke-width="0.25" >1.6000</text>
<text x="975.5" y="195" font-size="11" fill="#131722" text-anchor="start" font-weight="normal" stroke="#131722" stroke-width="0.25" >1.4000</text>
<text x="975.5" y="315.2" font-size="11" fill="#131722" text-anchor="start" font-weight="normal" stroke="#131722" stroke-width="0.25" >0.6000</text>
<text x="975.5" y="345.3" font-size="11" fill="#131722" text-anchor="start" font-weight="normal" stroke="#131722" stroke-width="0.25" >0.4000</text>
<rect x="0" y="344" width="1024" height="211" fill="#fff"/>
<rect x="0" y="369.5" width="968" height="101" fill="rgba(126,87,194,0.1)"/>
<line x1="42.5" y1="344" x2="42.5" y2="495" stroke="rgba(90,60,160,0.06)" stroke-width="1"/>
<line x1="127.5" y1="344" x2="127.5" y2="495" stroke="rgba(90,60,160,0.06)" stroke-width="1"/>
<line x1="213" y1="344" x2="213" y2="495" stroke="rgba(90,60,160,0.06)" stroke-width="1"/>
<line x1="298.5" y1="344" x2="298.5" y2="495" stroke="rgba(90,60,160,0.06)" stroke-width="1"/>
<line x1="383.5" y1="344" x2="383.5" y2="495" stroke="rgba(90,60,160,0.06)" stroke-width="1"/>
<line x1="469" y1="344" x2="469" y2="495" stroke="rgba(90,60,160,0.06)" stroke-width="1"/>
<line x1="554" y1="344" x2="554" y2="495" stroke="rgba(90,60,160,0.06)" stroke-width="1"/>
<line x1="638.5" y1="344" x2="638.5" y2="495" stroke="rgba(90,60,160,0.06)" stroke-width="1"/>
<line x1="766.5" y1="344" x2="766.5" y2="495" stroke="rgba(90,60,160,0.06)" stroke-width="1"/>
<line x1="852" y1="344" x2="852" y2="495" stroke="rgba(90,60,160,0.06)" stroke-width="1"/>
<line x1="937.5" y1="344" x2="937.5" y2="495" stroke="rgba(90,60,160,0.06)" stroke-width="1"/>
<line x1="0" y1="394.5" x2="968" y2="394.5" stroke="#e9e6f2" stroke-width="1"/>
<line x1="0" y1="445.5" x2="968" y2="445.5" stroke="#e9e6f2" stroke-width="1"/>
<line x1="0" y1="369.5" x2="968" y2="369.5" stroke="#9ea1aa" stroke-width="1" stroke-dasharray="4,4"/>
<line x1="0" y1="419.5" x2="968" y2="419.5" stroke="#9ea1aa" stroke-width="1" stroke-dasharray="4,4"/>
<line x1="0" y1="470.5" x2="968" y2="470.5" stroke="#9ea1aa" stroke-width="1" stroke-dasharray="4,4"/>
<polygon points="706.5,470.5 710.1,479.9 717.3,484.2 720.6,470.5" fill="rgba(242,54,69,0.1)"/>
<path d="M0.0,436.6 C2.4,436.0 9.6,434.0 14.4,432.9 C19.2,431.8 24.0,430.8 28.8,430.0 C33.6,429.2 38.0,428.5 43.3,428.0 C48.6,427.5 54.8,426.9 60.6,427.1 C66.4,427.3 71.2,428.4 77.9,429.4 C84.6,430.4 93.8,432.0 101.0,432.9 C108.2,433.8 115.3,433.5 121.1,434.6 C126.9,435.7 130.3,437.4 135.6,439.5 C140.9,441.6 147.6,445.1 152.9,447.3 C158.2,449.5 162.8,451.6 167.3,452.5 C171.8,453.4 176.3,453.1 180.0,453.0 C183.7,452.9 185.4,452.2 189.4,451.9 C193.4,451.6 199.0,451.3 203.8,451.0 C208.6,450.7 213.5,450.5 218.3,450.2 C223.1,449.9 227.4,450.4 232.7,449.0 C238.0,447.6 245.2,443.4 250.0,441.5 C254.8,439.6 257.2,438.8 261.5,437.5 C265.8,436.2 271.2,434.3 276.0,433.7 C280.8,433.1 286.1,433.7 290.4,433.7 C294.7,433.7 297.1,433.2 301.9,433.7 C306.7,434.2 313.9,436.1 319.2,436.6 C324.5,437.1 328.8,436.0 333.6,436.6 C338.4,437.2 342.9,438.7 348.0,440.4 C353.1,442.1 359.3,444.8 364.4,446.7 C369.5,448.6 374.0,450.5 378.8,451.9 C383.6,453.2 388.5,454.5 393.3,454.8 C398.1,455.1 402.9,454.8 407.7,453.9 C412.5,453.0 417.3,450.8 422.1,449.6 C426.9,448.4 431.7,448.1 436.5,446.7 C441.3,445.3 446.2,443.2 451.0,441.0 C455.8,438.8 460.6,436.3 465.4,433.7 C470.2,431.1 475.0,427.5 479.8,425.1 C484.6,422.7 489.4,421.1 494.2,419.3 C499.0,417.5 503.8,415.8 508.6,414.4 C513.4,413.0 518.9,411.8 523.1,410.7 C527.3,409.6 530.0,408.4 533.7,407.8 C537.4,407.2 540.9,407.4 545.2,406.9 C549.5,406.4 553.4,404.4 559.6,404.9 C565.9,405.4 576.5,408.7 582.7,410.1 C589.0,411.5 592.3,412.1 597.1,413.5 C601.9,414.9 606.7,416.8 611.5,418.5 C616.3,420.2 621.2,422.0 626.0,423.6 C630.8,425.2 635.6,426.6 640.4,428.0 C645.2,429.4 650.0,430.8 654.8,431.7 C659.6,432.6 664.4,433.1 669.2,433.7 C674.0,434.3 678.8,434.7 683.6,435.2 C688.4,435.7 693.0,435.2 698.1,436.6 C703.2,438.0 709.3,441.2 714.4,443.3 C719.5,445.4 724.0,447.9 728.8,449.0 C733.6,450.1 738.5,450.2 743.3,450.2 C748.1,450.2 752.9,449.7 757.7,449.0 C762.5,448.3 767.3,447.0 772.1,446.1 C776.9,445.2 781.7,444.7 786.5,443.8 C791.3,442.9 796.2,442.4 801.0,441.0 C805.8,439.6 810.6,436.8 815.4,435.2 C820.2,433.6 826.0,433.2 829.8,431.7 C833.6,430.2 835.0,427.8 838.4,426.0 C841.8,424.2 846.6,422.2 850.0,420.8 C853.4,419.4 856.0,418.4 858.6,417.9 C861.2,417.4 864.7,417.9 865.9,417.9" fill="none" stroke="#f7d568" stroke-width="1.2"/>
<polyline points="0.0,431.7 14.4,446.1 20.8,443.3 28.8,426.0 36.0,426.0 43.3,415.6 49.6,422.2 56.8,412.1 70.7,433.7 76.4,435.2 85.1,449.6 98.0,440.4 112.5,451.0 126.9,450.2 134.1,444.4 141.3,471.2 147.1,470.4 161.5,458.8 170.2,449.6 177.4,448.2 183.7,436.6 190.9,438.6 198.7,445.9 205.3,438.6 212.5,440.4 219.7,437.5 226.9,446.7 234.1,430.0 239.9,429.4 247.7,424.5 255.8,430.0 263.0,424.2 270.2,420.8 276.5,431.7 283.2,435.8 291.0,443.3 298.5,440.4 304.8,450.2 312.0,454.8 319.2,451.0 326.4,424.2 333.6,437.5 340.0,456.8 348.0,455.4 354.3,453.9 361.5,464.0 368.7,465.5 376.0,470.4 382.3,472.7 390.4,458.3 397.6,446.7 404.2,448.2 417.8,417.3 425.6,414.4 433.1,417.3 440.0,409.2 453.8,430.0 461.0,416.4 475.5,404.0 482.1,414.4 489.9,414.4 497.1,410.7 504.3,404.9 510.1,404.0 517.9,399.1 524.5,391.9 532.2,380.4 539.4,404.0 546.6,412.7 553.8,409.2 561.1,406.3 568.3,433.7 575.5,430.0 582.7,435.8 589.0,432.3 596.5,434.6 604.3,440.4 611.0,441.5 617.9,436.6 625.4,420.8 631.7,416.4 638.9,432.9 646.1,427.1 652.8,435.2 660.0,427.1 666.9,450.5 674.4,442.4 681.6,446.1 688.5,440.4 695.8,443.8 704.3,461.1 710.1,479.9 717.3,484.2 723.1,457.7 730.3,455.4 737.5,448.2 745.6,423.1 751.9,430.9 759.1,426.5 766.3,427.1 773.6,419.3 781.3,429.4 788.0,430.9 795.2,432.9 802.4,437.5 809.6,436.6 816.8,441.0 823.5,433.7 829.8,442.4 837.9,360.8 844.8,385.6 851.4,377.5 858.6,414.4 865.9,411.5" fill="none" stroke="#7d6cc4" stroke-width="1.15"/>
<line x1="0" y1="344.2" x2="1024" y2="344.2" stroke="#e0e3eb" stroke-width="1"/>
<line x1="0" y1="495.2" x2="1024" y2="495.2" stroke="#e0e3eb" stroke-width="1"/>
<line x1="0" y1="523" x2="1024" y2="523" stroke="#e0e3eb" stroke-width="1"/>
<text x="976" y="398.4" font-size="11" fill="#131722" text-anchor="start" font-weight="normal" stroke="#131722" stroke-width="0.25" >60.00</text>
<text x="976" y="449" font-size="11" fill="#131722" text-anchor="start" font-weight="normal" stroke="#131722" stroke-width="0.25" >40.00</text>
<rect x="968.5" y="404.5" width="39.5" height="14.5" fill="#7e57c2"/>
<text x="976" y="415.8" font-size="11.5" fill="#fff" text-anchor="start" font-weight="normal" stroke="#fff" stroke-width="0.35" textLength="27.5" lengthAdjust="spacingAndGlyphs">53.05</text>
<rect x="968.5" y="420.4" width="39.5" height="14.7" fill="#f8d33f"/>
<text x="976" y="431.8" font-size="11.5" fill="#131722" text-anchor="start" font-weight="normal" stroke="#131722" stroke-width="0.25" textLength="27.5" lengthAdjust="spacingAndGlyphs">50.50</text>
<text x="42.5" y="514" font-size="11" fill="#131722" text-anchor="middle" font-weight="normal" stroke="#131722" stroke-width="0.25" >15</text>
<text x="127.5" y="514" font-size="11" fill="#131722" text-anchor="middle" font-weight="normal" stroke="#131722" stroke-width="0.25" >17</text>
<text x="212.5" y="514" font-size="11" fill="#131722" text-anchor="middle" font-weight="normal" stroke="#131722" stroke-width="0.25" >19</text>
<text x="298" y="514" font-size="11" fill="#131722" text-anchor="middle" font-weight="normal" stroke="#131722" stroke-width="0.25" >21</text>
<text x="383" y="514" font-size="11" fill="#131722" text-anchor="middle" font-weight="normal" stroke="#131722" stroke-width="0.25" >23</text>
<text x="468.5" y="514" font-size="11" fill="#131722" text-anchor="middle" font-weight="normal" stroke="#131722" stroke-width="0.25" >25</text>
<text x="553.5" y="514" font-size="11" fill="#131722" text-anchor="middle" font-weight="normal" stroke="#131722" stroke-width="0.25" >27</text>
<text x="638.5" y="514" font-size="11" fill="#131722" text-anchor="middle" font-weight="normal" stroke="#131722" stroke-width="0.25" >29</text>
<text x="766.5" y="514" font-size="11" fill="#131722" text-anchor="middle" font-weight="bold" stroke="#131722" stroke-width="0.25" >Nov</text>
<text x="852" y="514" font-size="11" fill="#131722" text-anchor="middle" font-weight="normal" stroke="#131722" stroke-width="0.25" >3</text>
<text x="937" y="514" font-size="11" fill="#131722" text-anchor="middle" font-weight="normal" stroke="#131722" stroke-width="0.25" >5</text>
<svg x="968" y="485" width="56" height="10" overflow="hidden"><text x="7.5" y="13.2" font-size="11" fill="#131722" stroke="#131722" stroke-width="0.25">20.00</text></svg>
<rect x="968.3" y="213" width="45.4" height="15" fill="#f23645" rx="1.5"/>
<text x="977.3" y="224.4" font-size="11.5" fill="#fff" text-anchor="start" font-weight="normal" stroke="#fff" stroke-width="0.25" textLength="32" lengthAdjust="spacingAndGlyphs">1.2054</text>
<rect x="895.9" y="231" width="74" height="15.3" fill="#089981" rx="2"/>
<text x="900.2" y="242.5" font-size="11" fill="#fff" text-anchor="start" font-weight="normal" stroke="#fff" stroke-width="0.25" textLength="64" lengthAdjust="spacingAndGlyphs">ASTERUSDT.P</text>
<rect x="968.3" y="231" width="55.7" height="28.5" fill="#089981" rx="1.5"/>
<text x="977.3" y="242.7" font-size="11.5" fill="#fff" text-anchor="start" font-weight="normal" stroke="#fff" stroke-width="0.25" textLength="32" lengthAdjust="spacingAndGlyphs">1.0824</text>
<text x="976.4" y="255.1" font-size="11.5" fill="#fff" text-anchor="start" font-weight="normal" stroke="#fff" stroke-width="0.25" textLength="43.3" lengthAdjust="spacingAndGlyphs">02:35:18</text>
<rect x="968.3" y="260.4" width="45.4" height="14.4" fill="#2962ff" rx="1.5"/>
<text x="977.3" y="270.7" font-size="11.5" fill="#fff" text-anchor="start" font-weight="normal" stroke="#fff" stroke-width="0.25" textLength="32" lengthAdjust="spacingAndGlyphs">1.0205</text>
<rect x="968.3" y="275.5" width="45.4" height="14.3" fill="#089981" rx="1.5"/>
<text x="977.3" y="286.2" font-size="11.5" fill="#fff" text-anchor="start" font-weight="normal" stroke="#fff" stroke-width="0.25" textLength="32" lengthAdjust="spacingAndGlyphs">0.8356</text>
<rect x="972" y="1.5" width="60" height="22.5" rx="3" fill="#fff" stroke="#e9ebef" stroke-width="1"/>
<text x="975.7" y="17.6" font-size="11" fill="#131722" text-anchor="start" font-weight="normal" stroke="#131722" stroke-width="0.25" textLength="24" lengthAdjust="spacingAndGlyphs">USDT</text>
<polyline points="1015.2,11.8 1017.6,14.2 1020,11.8" fill="none" stroke="#131722" stroke-width="1.4"/>
<circle cx="18.3" cy="9.5" r="3" fill="#c9f3ee"/>
<path d="M14.6,8.2 A3.7,3.7 0 1 1 17.9,13.2" fill="none" stroke="#149c92" stroke-width="2.3"/>
<path d="M17.2,9.2 L19.4,8.6 L18.6,10.6" fill="none" stroke="#3a8f88" stroke-width="0.8"/>
<circle cx="12.3" cy="15.1" r="5.8" fill="#fff"/>
<circle cx="12.3" cy="15.1" r="4.6" fill="#ebe0c6" stroke="#111" stroke-width="1.6"/>
<path d="M10.6,15.1 L13.6,13.4 L13.0,16.6 Z" fill="#3a2e1a"/>
<text x="27.3" y="18" font-size="13" fill="#131722" text-anchor="start" font-weight="normal" stroke="#131722" stroke-width="0.25" textLength="355" lengthAdjust="spacingAndGlyphs">ASTER / TetherUS PERPETUAL CONTRACT · 4h · Binance</text>
<circle cx="398.6" cy="12.7" r="6.5" fill="#d6efe9"/><circle cx="398.6" cy="12.7" r="3.4" fill="#089981"/>
<text x="414.4" y="16.8" font-size="11.6" fill="#089981" textLength="286" lengthAdjust="spacingAndGlyphs"><tspan fill="#131722">O</tspan>1.0664 <tspan fill="#131722">H</tspan>1.0883 <tspan fill="#131722">L</tspan>1.0450 <tspan fill="#131722">C</tspan>1.0824 +0.0161 (+1.51%)</text>
<rect x="6.8" y="27.8" width="53.5" height="29.6" rx="4" fill="#fff" stroke="#eba3aa" stroke-width="1"/>
<text x="33.9" y="39.7" font-size="11.5" fill="#d8414d" text-anchor="middle" font-weight="normal" stroke="#d8414d" stroke-width="0.55" textLength="35" lengthAdjust="spacingAndGlyphs">1.0827</text>
<text x="33.9" y="52.3" font-size="10" fill="#d8636c" text-anchor="middle" font-weight="normal" stroke="#d8636c" stroke-width="0.25" textLength="20" lengthAdjust="spacingAndGlyphs">SELL</text>
<text x="68.8" y="45.2" font-size="9.5" fill="#3b3e47" text-anchor="start" font-weight="normal" stroke="#3b3e47" stroke-width="0.25" textLength="26.4" lengthAdjust="spacingAndGlyphs">0.0001</text>
<rect x="104.1" y="27.9" width="53.8" height="29.5" rx="4" fill="#fff" stroke="#8aa6e0" stroke-width="1"/>
<text x="131.6" y="39.7" font-size="11.5" fill="#3a6ad4" text-anchor="middle" font-weight="normal" stroke="#3a6ad4" stroke-width="0.55" textLength="34.3" lengthAdjust="spacingAndGlyphs">1.0828</text>
<text x="131" y="52.5" font-size="10" fill="#5a85d8" text-anchor="middle" font-weight="normal" stroke="#5a85d8" stroke-width="0.25" textLength="19" lengthAdjust="spacingAndGlyphs">BUY</text>
<rect x="0" y="64" width="229" height="15" fill="rgba(255,255,255,0.55)"/>
<text x="6.4" y="76.4" font-size="11" fill="#131722" text-anchor="start" font-weight="normal" stroke="#131722" stroke-width="0.25" textLength="93.1" lengthAdjust="spacingAndGlyphs">BB 20 SMA close 2</text>
<text x="108.9" y="76.4" font-size="11" fill="#3f6fd8" text-anchor="start" font-weight="normal" stroke="#3f6fd8" stroke-width="0.25" textLength="33.4" lengthAdjust="spacingAndGlyphs">1.0205</text>
<text x="149.6" y="76.4" font-size="11" fill="#d9505b" text-anchor="start" font-weight="normal" stroke="#d9505b" stroke-width="0.25" textLength="34.3" lengthAdjust="spacingAndGlyphs">1.2054</text>
<text x="189.7" y="76.4" font-size="11" fill="#2a9c88" text-anchor="start" font-weight="normal" stroke="#2a9c88" stroke-width="0.25" textLength="34.7" lengthAdjust="spacingAndGlyphs">0.8356</text>
<rect x="6.6" y="86.6" width="24.6" height="18" rx="2" fill="#fff" stroke="#e0e3eb" stroke-width="1"/>
<polyline points="15.6,97.6 18.9,94.3 22.2,97.6" fill="none" stroke="#131722" stroke-width="1.4"/>
<circle cx="866.4" cy="331.9" r="8.5" fill="#fff" stroke="#9124a8" stroke-width="1.4"/>
<path d="M869.6,326.4 L862.0,333.1 L865.9,333.0 L862.8,337.4 L871.0,330.7 L867.0,330.8 Z" fill="#9124a8"/>
<text x="6.3" y="364.2" font-size="11" fill="#131722" text-anchor="start" font-weight="normal" stroke="#131722" stroke-width="0.25" textLength="61.5" lengthAdjust="spacingAndGlyphs">RSI 14 close</text>
<circle cx="83.6" cy="360.2" r="7" fill="#ece4f7"/>
<path d="M79.6,359.2 A4.2,4.2 0 0 1 87.3,358.2 M87.6,361.2 A4.2,4.2 0 0 1 79.9,362.2" fill="none" stroke="#7e57c2" stroke-width="1.5"/>
<path d="M87.9,355.6 L87.7,358.8 L84.8,357.8 Z M79.3,364.8 L79.5,361.6 L82.4,362.6 Z" fill="#7e57c2"/>
<text x="99.5" y="364.2" font-size="11.5" fill="#7e6fb8" text-anchor="start" font-weight="normal" stroke="#7e6fb8" stroke-width="0.25" textLength="28" lengthAdjust="spacingAndGlyphs">53.05</text>
<text x="134.7" y="364.2" font-size="11.5" fill="#eedd78" text-anchor="start" font-weight="normal" stroke="#eedd78" stroke-width="0.25" textLength="28.3" lengthAdjust="spacingAndGlyphs">50.50</text>
<path d="M9.4,471.3 H21.1 V484.2 H14.4 V475.6 H9.4 Z" fill="#131722"/>
<circle cx="25.1" cy="473.5" r="2.2" fill="#131722"/>
<path d="M28.9,471.3 H36.3 L30.5,484.2 H22.7 Z" fill="#131722"/>
<text x="43.4" y="484.2" font-size="17.5" fill="#131722" text-anchor="start" font-weight="bold"  textLength="109" lengthAdjust="spacingAndGlyphs">TradingView</text>
<text x="11.7" y="545" font-size="12" fill="#131722" text-anchor="start" font-weight="normal" stroke="#131722" stroke-width="0.25" textLength="14.1" lengthAdjust="spacingAndGlyphs">1D</text>
<text x="37.5" y="545" font-size="12" fill="#131722" text-anchor="start" font-weight="normal" stroke="#131722" stroke-width="0.25" textLength="13.8" lengthAdjust="spacingAndGlyphs">5D</text>
<text x="62.4" y="545" font-size="12" fill="#131722" text-anchor="start" font-weight="normal" stroke="#131722" stroke-width="0.25" textLength="15.8" lengthAdjust="spacingAndGlyphs">1M</text>
<text x="88.8" y="545" font-size="12" fill="#131722" text-anchor="start" font-weight="normal" stroke="#131722" stroke-width="0.25" textLength="15.2" lengthAdjust="spacingAndGlyphs">All</text>
<line x1="113.5" y1="532" x2="113.5" y2="551.8" stroke="#e0e3eb" stroke-width="1"/>
<path d="M127.3,539.3 V534.6 Q127.3,533.4 128.5,533.4 H141.8 Q143,533.4 143,534.6 V545.4 Q143,546.6 141.8,546.6 H135.4 M127.3,537.3 H143 M131.9,531.6 V534.8 M138.4,531.6 V534.8 M126.2,544.7 H133 M130.2,542 L133,544.7 L130.2,547.4" fill="none" stroke="#131722" stroke-width="1.2"/>
<path d="M992.2,510.5 L995.5,504.7 H1002.8 L1005.6,510.5 L1002.8,516.4 H995.5 Z" fill="none" stroke="#131722" stroke-width="1.3"/>
<circle cx="998.8" cy="510.5" r="2.1" fill="none" stroke="#131722" stroke-width="1.2"/>
<text x="911.4" y="544.4" font-size="12" fill="#131722" text-anchor="start" font-weight="normal" stroke="#131722" stroke-width="0.25" textLength="107.6" lengthAdjust="spacingAndGlyphs">10:54:42 UTC+5:30</text>
</svg>
</body></html>
